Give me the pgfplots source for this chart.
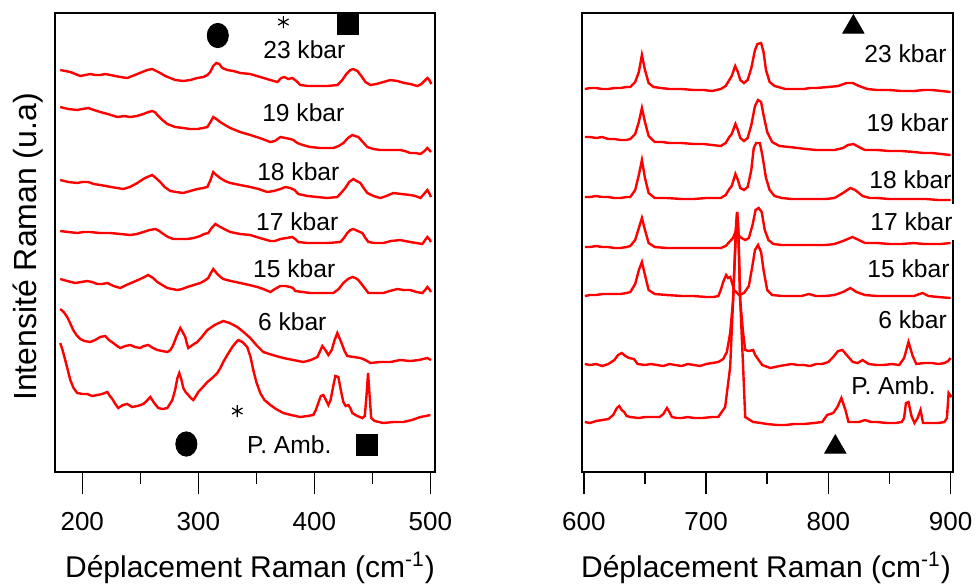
\documentclass[border=0pt]{standalone}
\usepackage{fontspec}
\setmainfont{Liberation Sans}
\usepackage{pgfplots}
\pgfplotsset{compat=1.18}
\tikzset{kb/.style={font=\fontsize{12.3}{12.3}\selectfont, inner sep=0pt},
 tk/.style={black, line width=0.75pt},
 tl/.style={font=\fontsize{13}{13}\selectfont, inner sep=0pt}}
\pgfplotsset{
 sp/.style={red, line width=1.2pt, mark=none},
 spec/.style={
  scale only axis, height=229.5pt, ymin=28, ymax=487,
  ytick=\empty, xtick=\empty,
  axis line style={black, line width=1pt},
  clip=false,
 },
}
\begin{document}
\begin{tikzpicture}
\path[use as bounding box] (0,0) rectangle (489.5pt,-293pt);
% ---------------- left panel ----------------
\begin{axis}[spec, at={(27.5pt,-6.5pt)}, anchor=north west, width=190pt,
  xmin=176.5, xmax=504]
% 23 kbar
\addplot[sp] coordinates {(181,430) (185.3,429) (189.7,428) (194,426) (198.3,424) (202.6,425) (206.9,426) (211.2,425) (215.5,425) (219.8,426) (224.1,425) (228.4,424) (232.8,423) (238.8,422) (243.1,424) (247.4,426) (251.7,428) (256,430) (260.3,431) (263.8,429) (267.2,427) (271.5,424) (275.9,422) (280.2,420) (287.1,419) (293.1,420) (299.1,422) (304.3,423) (307.8,425) (310.3,428) (312.9,434) (315.5,437) (318.1,436) (320.7,432) (325,430) (330.2,429) (336.2,427) (344.8,426) (353.4,423) (362.1,420) (368.1,418) (371.5,422) (374.1,423) (377.6,421) (381,422) (384.5,419) (387.9,415) (394.8,414) (402.6,414) (411.2,414) (419.8,415) (424.1,420) (427.6,426) (431,430) (433.6,431) (437.1,429) (440.5,424) (444,418) (448.3,415) (453.4,416) (459.5,418) (465.5,420) (471.5,419) (477.6,417) (482.7,416) (488.8,414) (492.2,416) (495.7,420) (497.4,422) (499.1,420) (500.8,416)};
% 19 kbar
\addplot[sp] coordinates {(181,393) (188,391) (195.7,390) (200,391) (205.2,392) (210,390) (215.5,388) (222,386) (230.2,383) (236,384) (241.4,383) (247,384) (252.6,386) (257,388) (260.3,389) (262.5,388) (264.7,385) (269,380) (273.3,376) (280,373) (287.1,372) (293,371) (299.1,371) (304,372) (307.8,373) (310.5,378) (312.9,383) (315.5,381) (318.9,378) (323,375) (327.6,372) (336,368) (344.8,365) (353,362) (362.1,358) (366,359) (370.7,363) (375,362) (379.3,361) (382,360) (385.3,357) (390,355) (396.5,353) (405,352) (416.4,352) (421,354) (425,357) (429,362) (432.7,365) (435,364) (437.9,363) (441,359) (445.7,353) (451,351) (456.9,350) (465,350) (474.1,350) (478,349) (482.7,347) (487,347) (491.4,346) (495,349) (497.4,352) (499,350) (500.5,348)};
% 18 kbar
\addplot[sp] coordinates {(181,320) (188,318) (195.7,317) (200,318) (205.2,318) (210,316) (215.5,315) (225,313) (235.3,311) (241,313) (247.4,317) (254,322) (260.3,325) (263.5,322) (267.2,318) (271,313) (275.9,309) (281,308) (287.1,307) (293,309) (299.1,311) (304,312) (307.8,313) (310.5,320) (312.9,328) (315.5,325) (318.9,322) (323,319) (327.6,317) (336,315) (344.8,313) (352,311) (359.5,308) (365,309) (370.7,311) (375,313) (379.3,312) (383,310) (386.2,306) (394,304) (402.6,303) (411,302) (419.8,303) (423,307) (426.7,312) (430,318) (433.6,321) (436.5,319) (439.7,317) (442.5,312) (445.7,307) (451,304) (456.9,302) (462,304) (468.1,307) (475,306) (482.7,305) (487,304) (491.4,302) (494.5,306) (497.4,310) (499,307) (500.5,303)};
% 17 kbar
\addplot[sp] coordinates {(181,269) (188,268) (195.7,267) (201,268) (206.9,268) (215,267) (224.1,267) (233,266) (241.4,265) (247,266) (252.6,268) (258,270) (263,271) (266.5,269) (269.8,266) (274,263) (278.4,261) (284,261) (290.5,261) (296,262) (301.7,264) (305,266) (308.6,267) (311.5,272) (314.7,276) (317.5,274) (320.7,272) (324,270) (327.6,268) (336,266) (344.8,265) (353,262) (362.1,259) (366,259) (370.7,261) (376,262) (381,263) (383.5,261) (386.2,258) (394,257) (402.6,257) (412,257) (422.4,258) (425.5,262) (428.4,267) (431,270) (433.6,271) (437.5,269) (441.4,267) (444,262) (446.6,258) (452,257) (459.5,257) (466,259) (474.1,260) (478,259) (482.7,258) (488,257) (493.1,256) (495.5,260) (497.4,263) (499,261) (500.5,258)};
% 15 kbar
\addplot[sp] coordinates {(181,221) (187,219) (193.9,217) (199,218) (204.3,219) (208.5,218) (212.9,216) (217,216) (221.6,217) (227,214) (232.8,212) (238,215) (244,218) (250,221) (256.9,225) (261,222) (264.7,218) (269,215) (273.3,212) (277.5,211) (281.9,210) (286,211) (290.5,213) (296,215) (301.7,217) (305,219) (308.6,222) (310.8,227) (312.9,231) (315,228) (317.2,225) (321.5,221) (328,219) (336.2,217) (344,215) (350.9,213) (356,211) (362.1,208) (366,211) (370.7,214) (375,214) (379.3,213) (381.5,212) (383.6,209) (390,208) (396.5,207) (406,207) (416.4,207) (421,211) (425,217) (429,221) (432.7,223) (435.5,222) (437.9,220) (442,214) (446.6,207) (452,207) (459.5,207) (465,209) (471.5,211) (477,210) (482.7,210) (488,208) (493.1,207) (495.5,210) (497.4,213) (499,211) (500.5,208)};
% 6 kbar
\addplot[sp] coordinates {(181,191) (184,188) (187,183) (189.5,177) (192.2,170) (195,165) (198.3,161) (202,159) (206.9,158) (211,160) (215.5,163) (219.8,164) (223,160) (226.7,157) (230,154) (232.8,152) (237,154) (241.4,155) (245.5,153) (250,152) (253,154) (256.9,155) (261,152) (264.7,150) (269,149) (273.3,148) (276,150) (278.4,155) (281,163) (284.5,172) (286.5,168) (288.8,163) (290,157) (291.4,152) (295,155) (299.1,158) (303,163) (307.8,170) (314,175) (321.5,179) (327,177) (333.6,173) (339,168) (344.8,162) (350,155) (356,148) (364,145) (373.3,142) (382,140) (390.5,138) (397,140) (402.6,143) (405,149) (406.9,154) (409.5,150) (412.1,145) (415,150) (417.5,160) (419.8,167) (422,161) (424.1,155) (426,149) (428.4,144) (434,143) (439.7,142) (444,140) (448.3,137) (456,138) (465.5,138) (474,140) (482.7,139) (490,140) (497.4,142) (500.5,140)};
% P. Amb.
\addplot[sp] coordinates {(181,157) (183,150) (185.3,140) (187.5,130) (189.7,120) (192.5,112) (195.7,107) (200,106) (204.3,106) (208.5,104) (212.9,105) (217,106) (221.6,108) (223.8,104) (225.9,101) (228.5,96) (231,92) (235,95) (238.8,96) (243,93) (247.4,94) (250,95) (252.6,96) (255.5,99) (258.6,103) (262,97) (265.5,92) (269,91) (273.3,92) (275.5,96) (277.6,100) (280,110) (282,122) (283.6,127) (285.5,120) (287.1,112) (289,108) (291.4,105) (293.5,102) (295.7,100) (298,104) (300,108) (304,113) (307.8,118) (312,122) (316.4,127) (319,132) (321.5,138) (325,145) (329.3,153) (332,157) (334.5,160) (338,158) (342.2,153) (345,143) (347.4,130) (350,118) (353.4,107) (357,100) (362.1,95) (367,91) (373.3,87) (380,85) (387.9,83) (394,84) (399.1,85) (401.3,90) (403.4,97) (405.6,104) (407.8,105) (410,100) (412.1,95) (414,100) (416,112) (418.1,124) (420.7,123) (422.8,110) (425,98) (427,94) (429.3,95) (431,92) (432.7,87) (437,84) (441.4,82) (443.5,84) (445,105) (446.3,127) (447.6,105) (449,82) (452,79) (459.5,77) (468,78) (476.7,78) (484,80) (491.4,83) (496,84) (500,85)};
% symbols
\addplot[black, only marks, mark=*, mark size=5.3pt, mark options={yscale=1.15}] coordinates {(316.8,464.5) (289.7,56)};
\addplot[black, only marks, mark=square*, mark size=5.2pt, line width=0.5pt] coordinates {(428.9,475.5) (445.7,55)};
\addplot[black, only marks, mark=asterisk, mark size=3pt, line width=0.6pt] coordinates {(373.3,478) (333.6,89)};
\node[kb] at (axis cs:391.4,450) {23 kbar};
\node[kb] at (axis cs:390.5,387) {19 kbar};
\node[kb] at (axis cs:386.2,328) {18 kbar};
\node[kb] at (axis cs:385.3,278) {17 kbar};
\node[kb] at (axis cs:382.7,231) {15 kbar};
\node[kb] at (axis cs:381,178) {6 kbar};
\node[kb] at (axis cs:378.4,55) {P. Amb.};
% ticks and tick labels
\pgfplotsinvokeforeach{200,300,400,500}{
  \draw[tk] (axis cs:#1,28) -- ([yshift=-11pt]axis cs:#1,28);
  \node[tl] at ([yshift=-25pt]axis cs:#1,28) {#1};
}
\pgfplotsinvokeforeach{250,350,450}{
  \draw[tk] (axis cs:#1,28) -- ([yshift=-6pt]axis cs:#1,28);
}
\end{axis}
% ---------------- right panel ----------------
\begin{axis}[spec, at={(291pt,-6.5pt)}, anchor=north west, width=185.5pt,
  xmin=598.5, xmax=902]
% 23 kbar
\addplot[sp] coordinates {(600.8,411) (605,412) (610,412) (615,411) (620,411) (625,412) (630,412) (635,413) (638,413) (642,418) (645,428) (647.5,445) (650,430) (653,417) (657,413) (663,412) (670,411) (680,411) (690,410) (698,410) (705,409) (712,411) (716,414) (719,420) (721,424) (723.8,434) (726,428) (728,420) (731,417) (734,420) (737,432) (740,450) (742,456) (745,457) (747,448) (749,430) (752,418) (756,414) (765,411) (772,411) (780,411) (785,412) (790,412) (800,413) (808,414) (815,417) (820,417) (825,414) (832,411) (840,410) (850,410) (860,409) (870,409) (878,410) (885,410) (893,409) (900,408)};
% 19 kbar
\addplot[sp] coordinates {(600.8,363) (605,363) (610,362) (615,363) (620,361) (625,361) (630,360) (635,360) (638,361) (642,366) (645,378) (647.5,392) (650,378) (653,364) (658,358) (664,358) (670,357) (680,357) (690,356) (698,356) (705,355) (712,354) (716,357) (719,363) (721,366) (724,376) (726,370) (728,362) (731,359) (734,362) (737,375) (740,394) (742.5,400) (745,398) (747,385) (750,368) (754,358) (760,354) (768,353) (775,352) (782,351) (790,350) (798,350) (805,350) (812,352) (816,355) (820.5,356) (825,353) (830,350) (840,350) (850,349) (860,349) (870,348) (878,347) (885,347) (892,346) (900,345)};
% 18 kbar
\addplot[sp] coordinates {(600.8,303) (605,303) (610,304) (615,303) (620,303) (625,302) (630,302) (635,303) (638,303) (642,310) (645,325) (647.5,340) (650,322) (653,307) (658,302) (668,302) (680,301) (690,301) (700,302) (712,302) (716,305) (719,311) (721,314) (724,326) (726,320) (728,312) (731,310) (734,313) (737,330) (739,352) (741,357) (744,357) (746,345) (749,322) (752,310) (756,304) (762,302) (770,301) (780,301) (790,301) (798,301) (805,302) (812,307) (818,312) (822,310) (828,304) (834,302) (840,302) (850,301) (860,301) (870,301) (880,301) (890,300) (900,300)};
% 17 kbar
\addplot[sp] coordinates {(600.8,253) (605,253) (610,254) (615,253) (620,253) (625,252) (630,252) (635,253) (638,254) (642,260) (645,272) (647.5,282) (650,270) (653,257) (658,253) (668,252) (680,252) (690,252) (700,252) (712,252) (716,254) (719,258) (722,262) (724,268) (726,265) (729,262) (732,260) (735,262) (738,275) (740.5,290) (743,292) (745.5,288) (748,270) (751,260) (755,256) (762,255) (770,255) (780,255) (790,255) (798,255) (805,256) (812,259) (819.7,263) (825,260) (830,257) (840,257) (850,256) (860,256) (870,257) (878,256) (885,256) (892,256) (900,257)};
% 15 kbar
\addplot[sp] coordinates {(600.8,204) (605,205) (610,205) (615,206) (620,206) (625,206) (630,206) (635,207) (638,208) (642,216) (645,230) (647.5,238) (650,225) (653,210) (658,206) (668,205) (680,204) (690,204) (700,203) (706,203) (710,204) (712,210) (714,218) (716.4,225) (718,222) (719.7,223) (721.3,217) (723,210) (727,205) (731,207) (735,214) (738,235) (740,250) (742.5,255) (745,248) (747,230) (750,210) (754,205) (762,204) (770,204) (778,204) (784,206) (790,204) (798,204) (805,205) (812,208) (818,212) (823,208) (830,205) (840,204) (850,204) (860,204) (870,204) (877,207) (882,204) (890,203) (900,202)};
% 6 kbar
\addplot[sp] coordinates {(600.8,136) (605,135) (610,136) (615,134) (620,136) (625,140) (628,145) (631,147) (634,144) (637,142) (641,141) (644,136) (650,135) (655,136) (660,135) (665,134) (670,136) (675,135) (680,134) (685,136) (690,135) (695,134) (700,136) (705,137) (710,138) (714,141) (717,148) (719.7,167) (722.1,200) (724.5,275) (725.4,288) (726.3,275) (727.9,200) (730.3,167) (732,150) (735,149) (738.5,150) (740.2,145) (743,140) (745.9,135) (752.5,132) (760,134) (765,135) (770,136) (775,135) (780,135) (785,134) (790,136) (795,136) (800,138) (804,143) (808,149) (811.5,150) (815,145) (820,138) (824,137) (828,140) (833,136) (840,135) (845,135) (852,136) (858,135) (862,142) (865.6,158) (869,144) (872,136) (878,137) (885,137) (890,136) (895,137) (898,139) (900,142)};
% P. Amb.
\addplot[sp] coordinates {(600.8,78) (605,77) (610,79) (615,80) (620,81) (624,85) (627,92) (629,94) (631,90) (633,88) (635,84) (638,83) (645,82) (650,83) (655,83) (662,83) (665,86) (668,92) (670,88) (672,83) (676,82) (680,82) (685,83) (690,82) (697,82) (705,83) (710,83) (715.6,93) (719.7,133) (722.1,200) (724.5,270) (725.4,288) (726.3,270) (727.9,200) (730.3,133) (732,83) (738.5,78) (745,77) (750,76) (758,75) (765,75) (772,76) (780,76) (788,77) (795,78) (799,85) (804,87) (807.4,93) (810.7,102) (814,90) (816.5,78) (820,78) (825,78) (830,80) (835,78) (840,78) (848,77) (855,77) (860,78) (862,82) (863.5,97) (865.6,98) (868,84) (870.5,77) (873,82) (875.4,90) (877.5,77) (880,77) (885,77) (890,77) (895,78) (897,82) (898.4,107) (900.8,103)};
% symbols
\addplot[black, only marks, mark=triangle*, mark size=6pt, line width=0.5pt] coordinates {(820.5,473) (805.7,53)};
\node[kb] at (axis cs:863.1,446) {23 kbar};
\node[kb] at (axis cs:864.8,377) {19 kbar};
\node[kb] at (axis cs:867.2,320) {18 kbar};
\node[kb, fill=white, inner xsep=1.5pt, inner ysep=4.5pt] at (axis cs:868,278) {17 kbar};
\node[kb] at (axis cs:865.6,231) {15 kbar};
\node[kb] at (axis cs:868.9,180) {6 kbar};
\node[kb] at (axis cs:853.3,114) {P. Amb.};
% ticks and tick labels
\pgfplotsinvokeforeach{600,700,800,900}{
  \draw[tk] (axis cs:#1,28) -- ([yshift=-11pt]axis cs:#1,28);
  \node[tl] at ([yshift=-25pt]axis cs:#1,28) {#1};
}
\pgfplotsinvokeforeach{650,750,850}{
  \draw[tk] (axis cs:#1,28) -- ([yshift=-6pt]axis cs:#1,28);
}
\end{axis}
% axis labels
\node[rotate=90, font=\fontsize{16}{16}\selectfont, inner sep=0pt] at (14pt,-123.5pt) {Intensité Raman (u.a)};
\node[font=\fontsize{15}{15}\selectfont, inner sep=0pt] at (125pt,-284pt) {Déplacement Raman (cm\textsuperscript{-1})};
\node[font=\fontsize{15}{15}\selectfont, inner sep=0pt] at (383pt,-284pt) {Déplacement Raman (cm\textsuperscript{-1})};
\end{tikzpicture}
\end{document}
